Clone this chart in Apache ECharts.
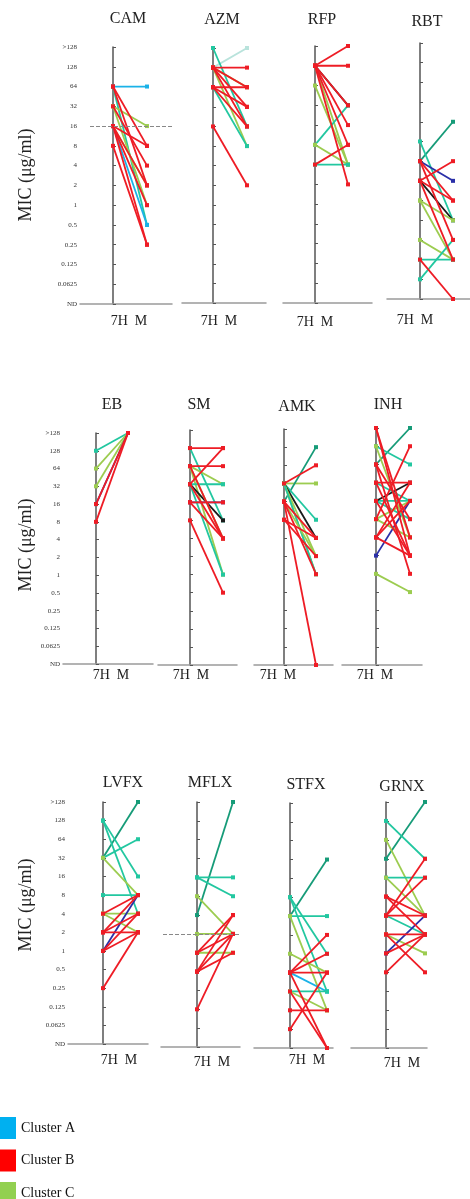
<!DOCTYPE html>
<html>
<head>
<meta charset="utf-8">
<script src="https://cdn.jsdelivr.net/npm/echarts@6/dist/echarts.min.js"></script>
<style>
  html, body { margin: 0; padding: 0; background: #fff; }
  #chart { width: 470px; height: 1199px; }
</style>
</head>
<body>
<div id="chart"></div>
<script>
// MIC tick labels, bottom (ND) to top (>128)
const MIC_LABELS = ['ND', '0.0625', '0.125', '0.25', '0.5', '1', '2', '4', '8', '16', '32', '64', '128', '>128'];

// each entry: [MIC at 7H, MIC at M, group]
const CAM = [
    [64, 64, 'A'], [64, 8, 'B'], [64, 0.5, 'T'], [64, 2, 'B'], [32, 16, 'C'], [32, 1, 'C'],
    [32, 4, 'B'], [16, 8, 'B'], [16, 2, 'B'], [16, 1, 'B'], [16, 0.5, 'A'], [16, 2, 'C'],
    [16, 0.25, 'B'], [8, 0.25, 'B']
];
const AZM = [
    [128, '>128', 'P'], ['>128', 16, 'T'], [128, 128, 'B'], [128, 64, 'C'], [128, 32, 'B'],
    [128, 8, 'C'], [128, 16, 'B'], [64, 64, 'B'], [64, 32, 'B'], [64, 16, 'B'], [64, 8, 'T'],
    [16, 2, 'B'], [128, 64, 'B']
];
const RFP = [
    [128, '>128', 'B'], [128, 128, 'B'], [128, 32, 'K'], [128, 32, 'B'], [128, 8, 'B'],
    [128, 4, 'C'], [128, 2, 'B'], [64, 4, 'C'], [8, 32, 'T'], [8, 4, 'C'], [4, 8, 'B'],
    [4, 4, 'T'], [128, 16, 'B']
];
const RBT = [
    [4, 16, 'D'], [8, 0.5, 'T'], [4, 2, 'N'], [4, 1, 'B'], [4, 0.25, 'B'], [2, 4, 'B'],
    [2, 0.5, 'K'], [2, 0.125, 'B'], [2, 1, 'B'], [1, 0.5, 'C'], [1, 0.125, 'C'],
    [0.25, 0.125, 'C'], [0.125, 'ND', 'B'], [0.0625, 0.25, 'T'], [0.125, 0.125, 'T']
];
const EB = [
    [128, '>128', 'T'], [64, '>128', 'C'], [32, '>128', 'C'], [16, '>128', 'B'],
    [16, '>128', 'N'], [8, '>128', 'B']
];
const SM = [
    [128, 128, 'B'], [128, 8, 'T'], [64, 32, 'C'], [64, 64, 'B'], [64, 4, 'B'], [64, 1, 'C'],
    [32, 32, 'T'], [32, 128, 'B'], [32, 8, 'K'], [32, 4, 'B'], [16, 16, 'N'], [16, 16, 'B'],
    [16, 4, 'B'], [8, 0.5, 'B'], [32, 1, 'T'], [64, 4, 'C']
];
const AMK = [
    [32, 32, 'C'], [16, 128, 'D'], [32, 64, 'B'], [32, 8, 'T'], [32, 4, 'K'], [32, 2, 'C'],
    [32, 1, 'C'], [16, 4, 'B'], [16, 1, 'B'], [8, 4, 'B'], [8, 2, 'B'], [16, 'ND', 'B'],
    [32, 1, 'T'], [16, 2, 'C']
];
const INH = [
    [1, 0.5, 'C'], [2, 16, 'N'], [64, '>128', 'D'], ['>128', 4, 'B'], ['>128', 2, 'B'],
    [128, 64, 'T'], [128, 4, 'C'], [64, 1, 'B'], [64, 8, 'B'], [32, 2, 'B'], [32, 32, 'B'],
    [16, 16, 'T'], [16, 32, 'K'], [16, 8, 'T'], [8, 128, 'B'], [8, 4, 'C'], [4, 32, 'B'],
    [4, 16, 'B'], [16, 2, 'B'], [8, 16, 'C'], [4, 2, 'B'], [32, 16, 'T']
];
const LVFX = [
    [32, '>128', 'D'], [128, 16, 'T'], [128, 4, 'T'], [32, 64, 'T'], [32, 8, 'C'], [8, 8, 'T'],
    [4, 4, 'C'], [4, 2, 'C'], [4, 8, 'B'], [2, 2, 'B'], [2, 4, 'B'], [1, 8, 'N'], [1, 4, 'B'],
    [0.25, 2, 'B'], [1, 2, 'B'], [2, 8, 'B']
];
const MFLX = [
    [4, '>128', 'D'], [16, 16, 'T'], [16, 8, 'T'], [8, 2, 'C'], [2, 2, 'C'], [1, 1, 'C'],
    [1, 4, 'B'], [1, 2, 'B'], [0.5, 2, 'B'], [0.5, 1, 'B'], [0.125, 2, 'B'], [0.5, 4, 'B']
];
const STFX = [
    [4, 32, 'D'], [4, 4, 'T'], [8, 1, 'T'], [8, 0.25, 'T'], [4, 0.125, 'C'], [1, 0.5, 'C'],
    [0.5, 2, 'B'], [0.5, 1, 'B'], [0.5, 0.5, 'B'], [0.5, 0.25, 'A'], [0.5, 'ND', 'B'],
    [0.25, 0.25, 'T'], [0.25, 0.125, 'C'], [0.25, 'ND', 'B'], [0.125, 0.125, 'B'], [0.0625, 0.5, 'B']
];
const GRNX = [
    [32, '>128', 'D'], [128, 32, 'T'], [64, 4, 'C'], [16, 16, 'T'], [16, 4, 'C'], [8, 4, 'B'],
    [4, 32, 'B'], [4, 16, 'B'], [4, 4, 'B'], [4, 2, 'T'], [2, 2, 'B'], [2, 1, 'C'], [1, 4, 'N'],
    [1, 2, 'B'], [0.5, 2, 'B'], [2, 0.5, 'B'], [8, 2, 'B']
];

const CLUSTERS = ['Cluster A', 'Cluster B', 'Cluster C'];

const COLORS = {
    A: '#1ab2e8', B: '#ee1c25', C: '#9ccc50', T: '#22c7a0',
    D: '#169b78', N: '#2a2fa8', K: '#1a1a1a', P: '#b9e3dc'
};
const LEGEND_COLORS = ['#00b0f0', '#ff0000', '#92d050'];

// panel layout in px: axis x, 7H x, M x, right end, top (>128), bottom (ND)
const PANELS = [
    { name: 'CAM',  data: CAM,  ax: 80,  x0: 113, x1: 147, xr: 172, top: 47,  bot: 304,  tx: 128, ty: 19,  lx: 129, ly: 321, labels: true },
    { name: 'AZM',  data: AZM,  ax: 182, x0: 213, x1: 247, xr: 266, top: 48,  bot: 303,  tx: 222, ty: 20,  lx: 219, ly: 321 },
    { name: 'RFP',  data: RFP,  ax: 283, x0: 315, x1: 348, xr: 372, top: 46,  bot: 303,  tx: 322, ty: 20,  lx: 315, ly: 322 },
    { name: 'RBT',  data: RBT,  ax: 387, x0: 420, x1: 453, xr: 470, top: 43,  bot: 299,  tx: 427, ty: 22,  lx: 415, ly: 320 },
    { name: 'EB',   data: EB,   ax: 63,  x0: 96,  x1: 128, xr: 153, top: 433, bot: 664,  tx: 112, ty: 405, lx: 111, ly: 675, labels: true },
    { name: 'SM',   data: SM,   ax: 158, x0: 190, x1: 223, xr: 237, top: 430, bot: 665,  tx: 199, ty: 405, lx: 191, ly: 675 },
    { name: 'AMK',  data: AMK,  ax: 254, x0: 284, x1: 316, xr: 333, top: 429, bot: 665,  tx: 297, ty: 407, lx: 278, ly: 675 },
    { name: 'INH',  data: INH,  ax: 342, x0: 376, x1: 410, xr: 422, top: 428, bot: 665,  tx: 388, ty: 405, lx: 375, ly: 675 },
    { name: 'LVFX', data: LVFX, ax: 68,  x0: 103, x1: 138, xr: 148, top: 802, bot: 1044, tx: 123, ty: 783, lx: 119, ly: 1060, labels: true },
    { name: 'MFLX', data: MFLX, ax: 161, x0: 197, x1: 233, xr: 240, top: 802, bot: 1047, tx: 210, ty: 783, lx: 212, ly: 1062 },
    { name: 'STFX', data: STFX, ax: 254, x0: 290, x1: 327, xr: 333, top: 803, bot: 1048, tx: 306, ty: 785, lx: 307, ly: 1060 },
    { name: 'GRNX', data: GRNX, ax: 351, x0: 386, x1: 425, xr: 427, top: 802, bot: 1048, tx: 402, ty: 787, lx: 402, ly: 1063 }
];

// dashed reference lines: panel, MIC level, from/to px
const REF_LINES = [
    { panel: 'CAM', mic: 16, from: 90, to: 172 },
    { panel: 'MFLX', mic: 2, from: 163, to: 240 }
];

const SERIF = '"Liberation Serif", "DejaVu Serif", serif';

function lvl(v) {
    if (v === 'ND') return 0;
    if (v === '>128') return 13;
    return Math.log2(v) + 5;
}

function pxToX(p, px) {
    return (px - p.x0) / (p.x1 - p.x0);
}

const chart = echarts.init(document.getElementById('chart'), null, { renderer: 'canvas' });

const grids = [], xAxes = [], yAxes = [], series = [], graphics = [];

PANELS.forEach((p, i) => {
    grids.push({ left: p.ax, top: p.top, width: p.xr - p.ax, height: p.bot - p.top, outerBoundsMode: 'none' });
    xAxes.push({
        type: 'value', gridIndex: i,
        min: pxToX(p, p.ax), max: pxToX(p, p.xr),
        axisLine: { show: true, lineStyle: { color: '#9a9a9a', width: 1.5 } },
        axisTick: { show: false }, axisLabel: { show: false }, splitLine: { show: false }
    });
    yAxes.push({
        type: 'value', gridIndex: i, min: 0, max: 13, interval: 1,
        axisLine: { show: true, lineStyle: { color: '#555', width: 1.5 } },
        axisTick: { show: true, inside: true, length: 3, lineStyle: { color: '#555' } },
        axisLabel: {
            show: !!p.labels, margin: 3, fontSize: 7, color: '#333', fontFamily: SERIF,
            formatter: v => MIC_LABELS[v]
        },
        splitLine: { show: false }
    });

    p.data.forEach(d => {
        const c = COLORS[d[2]];
        series.push({
            type: 'line', xAxisIndex: i, yAxisIndex: i,
            data: [[0, lvl(d[0])], [1, lvl(d[1])]],
            symbol: 'rect', symbolSize: 4,
            lineStyle: { color: c, width: 1.8 },
            itemStyle: { color: c },
            z: d[2] === 'B' ? 3 : 2,
            silent: true, animation: false
        });
    });

    graphics.push({
        type: 'text', x: p.tx, y: p.ty,
        style: { text: p.name, font: '16px ' + SERIF, fill: '#222', textAlign: 'center', textVerticalAlign: 'middle' }
    });
    graphics.push({
        type: 'text', x: p.lx, y: p.ly,
        style: { text: '7H  M', font: '14px ' + SERIF, fill: '#222', textAlign: 'center', textVerticalAlign: 'middle' }
    });
});

REF_LINES.forEach(r => {
    const i = PANELS.findIndex(p => p.name === r.panel);
    const p = PANELS[i];
    series.push({
        type: 'line', xAxisIndex: i, yAxisIndex: i, data: [],
        markLine: {
            silent: true, symbol: 'none', label: { show: false },
            lineStyle: { color: '#888', type: 'dashed', width: 1 },
            data: [[{ coord: [pxToX(p, r.from), lvl(r.mic)] }, { coord: [pxToX(p, r.to), lvl(r.mic)] }]]
        }
    });
});

// legend entries (one legend each so the last one can run off the bottom)
CLUSTERS.forEach((name, k) => {
    series.push({ name: name, type: 'line', xAxisIndex: 0, yAxisIndex: 0, data: [], itemStyle: { color: LEGEND_COLORS[k] } });
});
const legends = CLUSTERS.map((name, k) => ({
    data: [name], orient: 'vertical', left: 0, top: 1117 + k * 32.5, padding: 0,
    icon: 'rect', itemWidth: 16, itemHeight: 22, selectedMode: false,
    textStyle: { fontFamily: SERIF, fontSize: 14, color: '#111' }
}));

// y axis titles
[175, 545, 905].forEach(y => {
    graphics.push({
        type: 'text', x: 26, y: y, rotation: Math.PI / 2,
        style: { text: 'MIC (μg/ml)', font: '18px ' + SERIF, fill: '#222', textAlign: 'center', textVerticalAlign: 'middle' }
    });
});

chart.setOption({
    animation: false,
    grid: grids,
    xAxis: xAxes,
    yAxis: yAxes,
    legend: legends,
    graphic: graphics,
    series: series
});
</script>
</body>
</html>
